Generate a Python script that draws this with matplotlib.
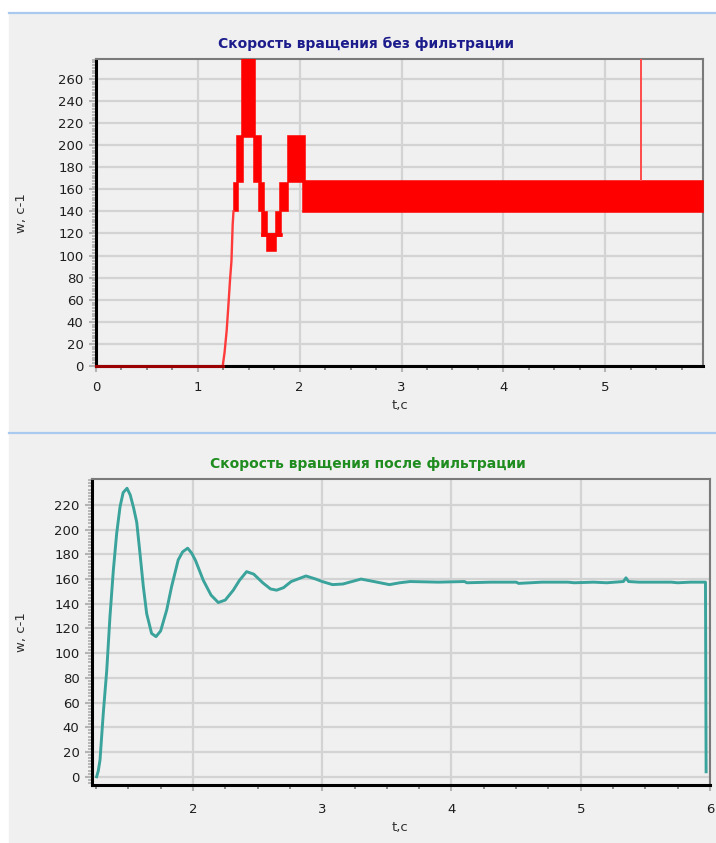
import matplotlib.pyplot as plt
from matplotlib.lines import Line2D
from matplotlib.patches import Rectangle
from matplotlib.ticker import MultipleLocator


# Raw speed signal (top chart)
raw_zero_t = [0.0, 1.244]
raw_zero_w = [0, 0]
raw_ramp_t = [1.244, 1.262, 1.283, 1.300, 1.316, 1.330, 1.342, 1.35]
raw_ramp_w = [0, 12, 32, 55, 78, 95, 128, 140]
# zones where the quantised signal flips between two levels
band_t0 = [1.345, 1.372, 1.421, 1.539, 1.595, 1.621, 1.621, 1.667, 1.758, 1.800, 1.873, 2.027]
band_t1 = [1.398, 1.447, 1.562, 1.617, 1.654, 1.677, 1.824, 1.765, 1.817, 1.890, 2.053, 5.96]
band_lo = [140, 167, 207, 167, 140, 118, 118, 104, 118, 140, 167, 139]
band_hi = [167, 209, 290, 209, 167, 140, 120.5, 120.5, 140, 167, 209, 168]
spike_t = [5.35, 5.35]
spike_w = [168, 290]

# Filtered speed signal (bottom chart)
filt_t = [1.255, 1.268, 1.281, 1.306, 1.333, 1.358, 1.384, 1.41, 1.436, 1.46, 1.49,
          1.515, 1.54, 1.565, 1.59, 1.616, 1.642, 1.68, 1.714, 1.75, 1.797, 1.835,
          1.886, 1.92, 1.959, 1.99, 2.02, 2.08, 2.14, 2.196, 2.25, 2.312, 2.36,
          2.415, 2.47, 2.54, 2.6, 2.647, 2.7, 2.76, 2.874, 2.95, 3.0, 3.08, 3.16,
          3.3, 3.4, 3.52, 3.6, 3.68, 3.9, 4.1, 4.12, 4.3, 4.5, 4.52, 4.7, 4.9,
          4.95, 5.1, 5.2, 5.33, 5.35, 5.37, 5.45, 5.7, 5.75, 5.85, 5.965, 5.97]
filt_w = [0, 5, 13.5, 51, 86, 129.6, 167, 197, 218.6, 230, 233.5,
          228, 218, 206, 181, 154, 132, 116, 113.4, 118, 135, 154,
          175.5, 182, 185, 181, 175, 159, 147, 141, 143, 151, 159,
          166, 164, 157, 152, 151, 153, 158, 162.5, 160, 158, 155.5, 156,
          160, 158, 155.5, 157, 158, 157.5, 158, 157, 157.5, 157.5, 156.5, 157.5, 157.5,
          157, 157.5, 157, 158, 161, 158, 157.5, 157.5, 157, 157.5, 157.5, 4]

x_ticks_top = [0, 1, 2, 3, 4, 5]
y_ticks_top = list(range(0, 261, 20))
x_ticks_bot = [2, 3, 4, 5, 6]
y_ticks_bot = list(range(0, 221, 20))

W, H = 716, 843
PANEL = '#f0f0f0'
BLUE = '#a9c9ee'
TICK_TXT = '#1e1e1e'

fig = plt.figure(figsize=(W / 100, H / 100), dpi=100)
fig.patch.set_facecolor('white')

# window panels with blue separators
fig.add_artist(Rectangle((9 / W, 0), 1 - 9 / W, 1 - 14 / H,
                         transform=fig.transFigure, color=PANEL, zorder=0))
for py in (13, 433):
    fig.add_artist(Line2D([9 / W, 1], [1 - py / H, 1 - py / H],
                          transform=fig.transFigure, color=BLUE, lw=1.6))


def style_axes(ax):
    ax.set_facecolor(PANEL)
    ax.set_axisbelow(True)
    ax.grid(True, which='major', color='#d3d3d3', lw=1.6)
    for side in ('left', 'bottom'):
        ax.spines[side].set_color('black')
        ax.spines[side].set_linewidth(2.2)
    for side in ('top', 'right'):
        ax.spines[side].set_color('#7a7a7a')
        ax.spines[side].set_linewidth(1.5)
    ax.yaxis.set_minor_locator(MultipleLocator(2.5))
    ax.xaxis.set_minor_locator(MultipleLocator(0.25))
    ax.tick_params(axis='y', which='major', length=5, width=1.5, color='#b4b4b4',
                   pad=4, labelsize=9.5, labelcolor=TICK_TXT)
    ax.tick_params(axis='y', which='minor', length=3, width=1.1, color='#a8a8a8')
    ax.tick_params(axis='x', which='major', length=4, width=1.5, color='#b4b4b4',
                   pad=7, labelsize=9.5, labelcolor=TICK_TXT)
    ax.tick_params(axis='x', which='minor', length=3, width=1.4, color='#8a8a8a')


# Top chart: raw speed
ax1 = fig.add_axes([96 / W, 1 - 366 / H, (703 - 96) / W, (366 - 59) / H])
style_axes(ax1)
for t0, t1, lo, hi in zip(band_t0, band_t1, band_lo, band_hi):
    ax1.fill_between([t0, t1], [lo, lo], [hi, hi], color='#ff0000', lw=0.4, zorder=3)
ax1.plot(raw_ramp_t, raw_ramp_w, color='#ff3a3a', lw=1.7, zorder=3)
ax1.plot(spike_t, spike_w, color='#ff4a4a', lw=1.4, zorder=3)
ax1.plot(raw_zero_t, raw_zero_w, color='#9a0000', lw=2.2, zorder=4, clip_on=False)
ax1.set_xlim(0, 5.96)
ax1.set_ylim(0, 278)
ax1.set_xticks(x_ticks_top)
ax1.set_yticks(y_ticks_top)

# Bottom chart: filtered speed
ax2 = fig.add_axes([92 / W, 1 - 785 / H, (710 - 92) / W, (785 - 479) / H])
style_axes(ax2)
ax2.plot(filt_t, filt_w, color='#3aa39b', lw=2.1, zorder=3)
ax2.set_xlim(1.219, 6.0)
ax2.set_ylim(-6.7, 241)
ax2.set_xticks(x_ticks_bot)
ax2.set_yticks(y_ticks_bot)
ax2.tick_params(axis='x', which='major', pad=9)

# Titles and axis labels
fig.text(366 / W, 1 - 44 / H, 'Скорость вращения без фильтрации', ha='center', va='center',
         fontsize=10, fontweight='bold', color='#1c1c8c')
fig.text(368 / W, 1 - 464 / H, 'Скорость вращения после фильтрации', ha='center', va='center',
         fontsize=10, fontweight='bold', color='#1e8c1e')
for yc in (213, 632):
    fig.text(22 / W, 1 - yc / H, 'w, с-1', rotation=90, ha='center', va='center',
             fontsize=9.5, color='#303030')
for yc in (405, 827):
    fig.text(400 / W, 1 - yc / H, 't,с', ha='center', va='center',
             fontsize=9.5, color='#303030')

fig.savefig('out.png', dpi=100, facecolor=fig.get_facecolor())
plt.close(fig)
